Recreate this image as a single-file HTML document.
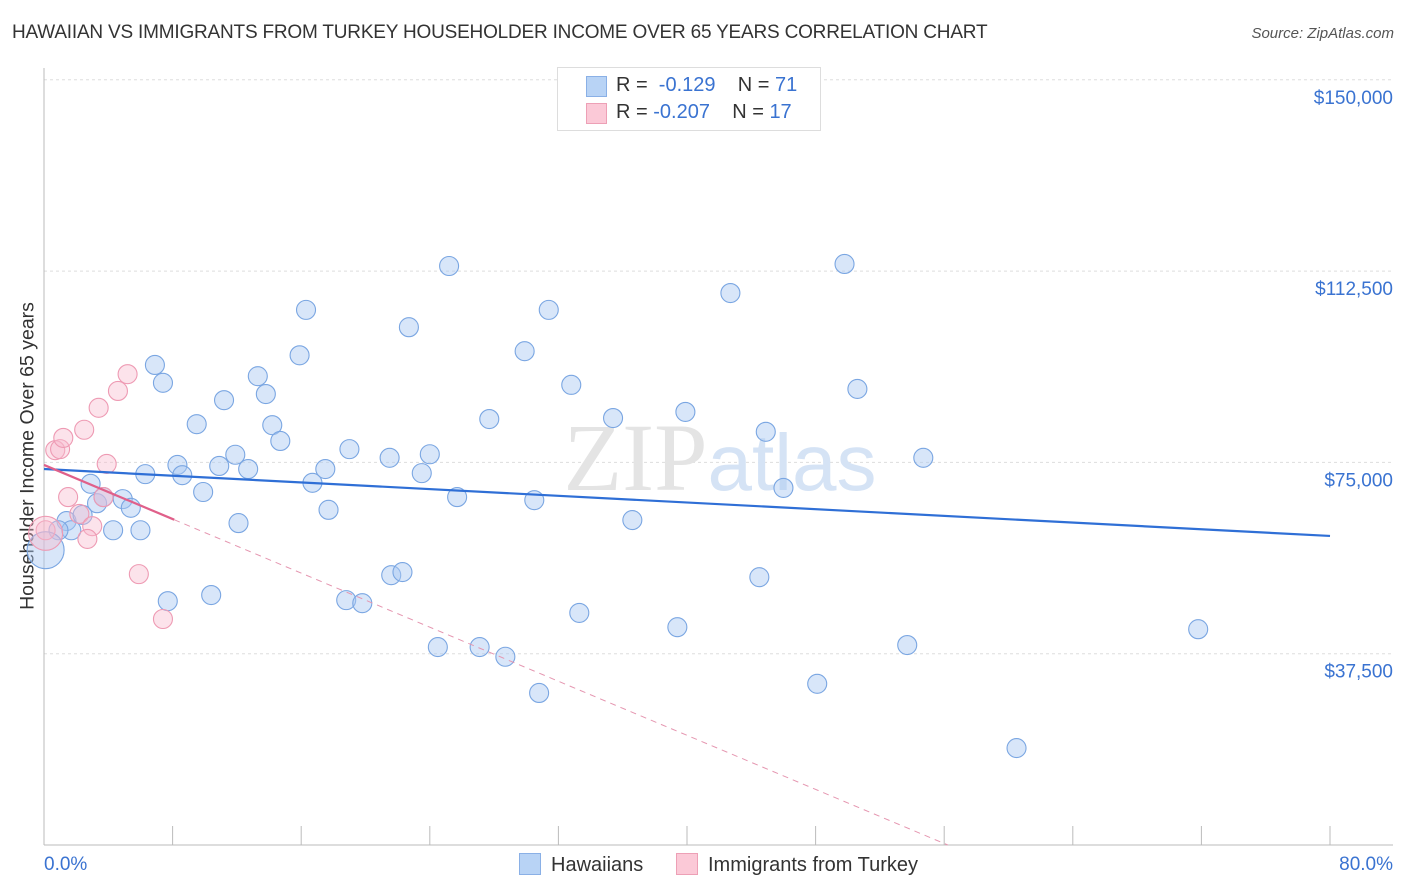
<!DOCTYPE html>
<html><head><meta charset="utf-8"><style>
body{margin:0;background:#fff;font-family:"Liberation Sans",sans-serif;}
#wrap{position:relative;width:1406px;height:892px;overflow:hidden}
.t{position:absolute;white-space:nowrap}
</style></head><body><div id="wrap">
<div class="t" style="left:12px;top:22px;font-size:19px;color:#333;letter-spacing:-0.2px">HAWAIIAN VS IMMIGRANTS FROM TURKEY HOUSEHOLDER INCOME OVER 65 YEARS CORRELATION CHART</div>
<div class="t" style="right:12px;top:25px;font-size:15px;color:#555;font-style:italic">Source: ZipAtlas.com</div>
<div class="t" style="left:28px;top:456px;font-size:19.5px;color:#333;transform:translate(-50%,-50%) rotate(-90deg)">Householder Income Over 65 years</div>
<svg id="svg" width="1406" height="892" style="position:absolute;left:0;top:0"></svg>
<div class="t" style="left:557px;top:67px;width:262px;height:62px;border:1px solid #ddd;background:#fff;font-size:20px">
 <div style="position:absolute;left:28px;top:8px;width:19px;height:19px;background:#b8d3f5;border:1px solid #8ab0e6"></div>
 <div class="t" style="left:58px;top:6px;color:#333">R = &nbsp;<span style="color:#3a73d1">-0.129</span>&nbsp;&nbsp;&nbsp; N = <span style="color:#3a73d1">71</span></div>
 <div style="position:absolute;left:28px;top:35px;width:19px;height:19px;background:#fbc9d7;border:1px solid #eda0b6"></div>
 <div class="t" style="left:58px;top:33px;color:#333">R = <span style="color:#3a73d1">-0.207</span>&nbsp;&nbsp;&nbsp; N = <span style="color:#3a73d1">17</span></div>
</div>
<div class="t" style="left:519px;top:853px;font-size:20px;color:#333"><span style="display:inline-block;width:20px;height:20px;background:#b8d3f5;border:1px solid #8ab0e6;vertical-align:-4px;margin-right:10px"></span>Hawaiians</div>
<div class="t" style="left:676px;top:853px;font-size:20px;color:#333"><span style="display:inline-block;width:20px;height:20px;background:#fbc9d7;border:1px solid #eda0b6;vertical-align:-4px;margin-right:10px"></span>Immigrants from Turkey</div>
</div>
<script>
const yTicks=[37500,75000,112500,150000];
const yTickLabels=["$37,500","$75,000","$112,500","$150,000"];
const xLabels=["0.0%","80.0%"];
const blueX=[6.9,7.4,9.5,11.2,13.3,13.8,14.2,14.7,15.9,16.3,25.2,22.7,29.9,31.4,32.8,35.4,27.7,39.9,42.7,49.8,50.6,44.9,46.0,54.7,19.0,17.5,16.7,17.7,21.5,23.5,24.0,25.7,30.5,36.6,8.3,8.6,9.9,10.9,11.9,12.7,12.1,6.3,2.9,3.3,3.7,4.9,5.4,6.0,4.3,1.4,1.7,0.9,0.1,2.4,7.7,10.4,18.8,19.8,21.6,22.3,24.5,27.1,28.7,30.8,33.3,39.4,44.5,48.1,53.7,60.5,71.8];
const blueY=[94100,90600,82500,87200,91900,88400,82300,79200,96000,104900,113500,101500,96800,104900,90200,83700,83500,84900,108200,113900,89400,81000,70000,75900,77600,73700,71000,65700,75900,72900,76600,68200,67600,63700,74500,72500,69200,74300,76500,73700,63100,72700,70800,67000,68200,67800,66100,61700,61700,63500,61700,61700,57800,64700,47800,49000,48000,47400,52900,53500,38800,38800,36900,29800,45500,42700,52500,31600,39200,19000,42300];
const blueR=[9,9,9,9,9,9,9,9,9,9,9,9,9,9,9,9,9,9,9,9,9,9,9,9,9,9,9,9,9,9,9,9,9,9,9,9,9,9,9,9,9,9,9,9,9,9,9,9,9,9,9,9,18,9,9,9,9,9,9,9,9,9,9,9,9,9,9,9,9,9,9];
const pinkX=[0.1,0.7,1.0,1.2,2.5,1.5,3.4,4.6,5.2,3.9,2.2,3.0,2.7,3.7,5.9,7.4,0.1];
const pinkY=[61700,77400,77600,79800,81400,68200,85700,89000,92300,74700,64900,62500,60000,68200,53100,44300,61100];
const blueTrend=[73700,-164];   // intercept, slope per %
const pinkTrend=[74500,-1325];
const X0=44,X1=1330,Y0=845,YPX=191.3/37500;
const sx=v=>X0+(v/80)*(X1-X0), sy=v=>Y0-v*YPX;
const svg=document.getElementById('svg'),NS='http://www.w3.org/2000/svg';
function mk(t,a){const e=document.createElementNS(NS,t);for(const k in a)e.setAttribute(k,a[k]);svg.appendChild(e);return e;}
yTicks.forEach((v,i)=>{
 const g=mk('line',{x1:44,x2:1393,y1:sy(v),y2:sy(v),stroke:'#ddd','stroke-dasharray':'3,3'});
 
 
 const t=mk('text',{x:1393,y:sy(v)+24,'text-anchor':'end','font-size':19,fill:'#3a73d1','font-family':'Liberation Sans'});
 t.textContent=yTickLabels[i];
 
 
});
const ax=mk('line',{x1:44,x2:1393,y1:845,y2:845,stroke:'#bbb'});


const ay=mk('line',{x1:44,x2:44,y1:68,y2:845,stroke:'#bbb'});


for(let i=1;i<=10;i++){const tk=mk('line',{x1:sx(i*8),x2:sx(i*8),y1:826,y2:845,stroke:'#bbb'});
 
 }
[[0,'start',44],[1,'end',1393]].forEach(([i,a,x])=>{const t=mk('text',{x:x,y:870,'text-anchor':a,'font-size':19,fill:'#3a73d1','font-family':'Liberation Sans'});t.textContent=xLabels[i];
 
 });
const wm=mk('text',{x:720,y:490,'text-anchor':'middle','font-size':96,fill:'#e4e4e4','font-family':'Liberation Serif'});
wm.innerHTML='ZIP<tspan fill="#d5e3f5" font-family="Liberation Sans" font-size="80">atlas</tspan>';


blueX.forEach((x,i)=>{const c=mk('circle',{cx:sx(x),cy:sy(blueY[i]),r:blueR[i]+0.5,fill:'rgba(168,200,242,0.45)',stroke:'#7aa6e2','stroke-width':1.1});
 
 });
pinkX.forEach((x,i)=>{const c=mk('circle',{cx:sx(x),cy:sy(pinkY[i]),r:i===16?17:9.5,fill:'rgba(248,186,205,0.4)',stroke:'#ee9ab3','stroke-width':1.1});
 
 });
const bl=mk('line',{x1:sx(0),y1:sy(blueTrend[0]),x2:sx(80),y2:sy(blueTrend[0]+blueTrend[1]*80),stroke:'#2f6fd6','stroke-width':2.2});


const pEnd=-pinkTrend[0]/pinkTrend[1];
const pd=mk('line',{x1:sx(8.1),y1:sy(pinkTrend[0]+pinkTrend[1]*8.1),x2:sx(pEnd),y2:sy(0),stroke:'#e596b0','stroke-width':1,'stroke-dasharray':'6,5'});


const pl=mk('line',{x1:sx(0),y1:sy(pinkTrend[0]),x2:sx(8.1),y2:sy(pinkTrend[0]+pinkTrend[1]*8.1),stroke:'#e0608a','stroke-width':2.2});


</script></body></html>
